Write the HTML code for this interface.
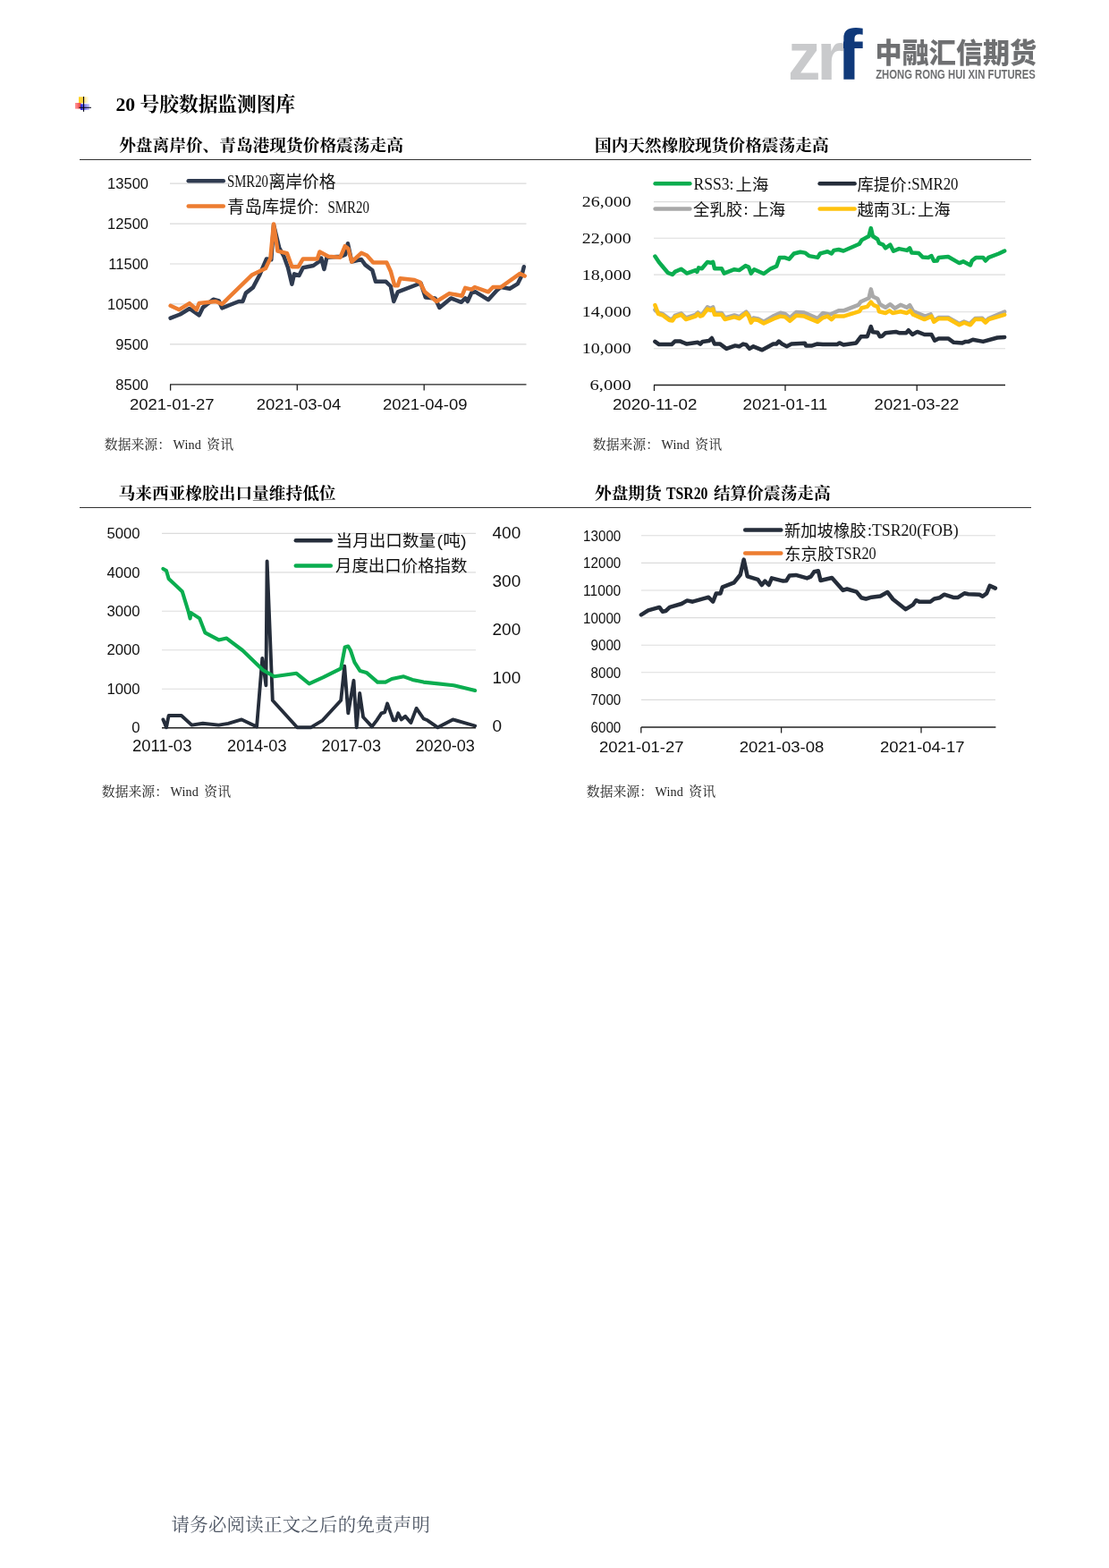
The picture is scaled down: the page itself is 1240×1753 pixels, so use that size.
<!DOCTYPE html>
<html lang="zh-CN"><head><meta charset="utf-8"><title>20号胶数据监测图库</title>
<style>
html,body{margin:0;padding:0;background:#fff;}
body{width:1240px;height:1753px;position:relative;overflow:hidden;font-family:"Liberation Serif","Noto Serif CJK SC",serif;color:#000;}
.t{position:absolute;white-space:nowrap;line-height:1;}
.h1{font-size:21.7px;font-weight:700;}
.ct{font-size:18.7px;font-weight:700;}
.src{font-size:14.85px;font-weight:400;color:#222;}
.src i{font-style:normal;font-size:14.2px;display:inline-block;margin:0 6.4px 0 2.6px;letter-spacing:0.1px;}
.lat{display:inline-block;transform-origin:0 50%;transform:scaleX(0.845);width:46.4px;margin:0 6.2px 0 5.6px;}
.ft{font-size:20.4px;color:#4d5563;letter-spacing:0.3px;}
.rule{position:absolute;height:0;border-top:1.4px solid #333;}
svg{position:absolute;left:0;top:0;}
</style></head><body>
<svg width="1240" height="1753" viewBox="0 0 1240 1753">
<!-- logo -->
<text x="880.9" y="89.0" font-size="75.5" font-family='"Liberation Sans","Noto Sans CJK SC",sans-serif' fill="#c9cacc" textLength="36.5" lengthAdjust="spacingAndGlyphs" font-weight="bold">z</text>
<text x="913.0" y="89.0" font-size="75.5" font-family='"Liberation Sans","Noto Sans CJK SC",sans-serif' fill="#c9cacc" textLength="31.5" lengthAdjust="spacingAndGlyphs" font-weight="bold">r</text>
<clipPath id="cf"><rect x="943" y="20" width="40" height="80"/></clipPath><g clip-path="url(#cf)"><text x="935.0" y="89.0" font-size="79.5" font-family='"Liberation Sans","Noto Sans CJK SC",sans-serif' fill="#10397a" textLength="29.5" lengthAdjust="spacingAndGlyphs" font-weight="bold">f</text></g>
<g transform="translate(978.6,70.3) scale(1,1.06)"><text x="0.0" y="0.0" font-size="29.2" font-family='"Liberation Sans","Noto Sans CJK SC",sans-serif' fill="#6f7072" textLength="180.6" lengthAdjust="spacingAndGlyphs" font-weight="900">中融汇信期货</text></g><text x="979.2" y="88.2" font-size="13.9" font-family='"Liberation Sans","Noto Sans CJK SC",sans-serif' fill="#6f7072" textLength="178.6" lengthAdjust="spacingAndGlyphs" font-weight="bold">ZHONG RONG HUI XIN FUTURES</text>
<!-- bullet icon -->
<defs>
<linearGradient id="gy" x1="0" x2="1" y1="0" y2="0"><stop offset="0" stop-color="#ffd21f"/><stop offset="0.45" stop-color="#ffd84a"/><stop offset="1" stop-color="#fff6d6" stop-opacity="0.4"/></linearGradient>
<linearGradient id="gr" x1="0" x2="1" y1="0" y2="0"><stop offset="0" stop-color="#ff9a9a"/><stop offset="1" stop-color="#ef3e3e"/></linearGradient>
<linearGradient id="gb" x1="0" x2="1" y1="0" y2="0"><stop offset="0" stop-color="#2020d8"/><stop offset="1" stop-color="#a6a6ff" stop-opacity="0.6"/></linearGradient>
</defs>
<rect x="88" y="108.3" width="11" height="7" fill="url(#gy)"/>
<rect x="84" y="115" width="6.5" height="6.6" fill="url(#gr)"/>
<rect x="90" y="116.3" width="10" height="6.7" fill="url(#gb)"/>
<line x1="93.5" y1="108" x2="93.5" y2="124.8" stroke="#05051a" stroke-width="1.15"/>
<line x1="88.4" y1="120.3" x2="102" y2="120.3" stroke="#05051a" stroke-width="1.0"/>
<!-- chart 1 -->
<line x1="190.0" y1="205.2" x2="588.5" y2="205.2" stroke="#d9d9d9" stroke-width="1.2"/>
<line x1="190.0" y1="250.1" x2="588.5" y2="250.1" stroke="#d9d9d9" stroke-width="1.2"/>
<line x1="190.0" y1="295.0" x2="588.5" y2="295.0" stroke="#d9d9d9" stroke-width="1.2"/>
<line x1="190.0" y1="339.9" x2="588.5" y2="339.9" stroke="#d9d9d9" stroke-width="1.2"/>
<line x1="190.0" y1="384.8" x2="588.5" y2="384.8" stroke="#d9d9d9" stroke-width="1.2"/>
<line x1="190.0" y1="429.9" x2="588.5" y2="429.9" stroke="#222" stroke-width="1.4"/>
<line x1="190.6" y1="429.9" x2="190.6" y2="436.6" stroke="#222" stroke-width="1.3"/>
<line x1="332.3" y1="429.9" x2="332.3" y2="436.6" stroke="#222" stroke-width="1.3"/>
<line x1="474.2" y1="429.9" x2="474.2" y2="436.6" stroke="#222" stroke-width="1.3"/>
<text x="166.0" y="211.2" font-size="16.5" font-family='"Liberation Sans","Noto Sans CJK SC",sans-serif' fill="#111" text-anchor="end">13500</text>
<text x="166.0" y="256.1" font-size="16.5" font-family='"Liberation Sans","Noto Sans CJK SC",sans-serif' fill="#111" text-anchor="end">12500</text>
<text x="166.0" y="301.0" font-size="16.5" font-family='"Liberation Sans","Noto Sans CJK SC",sans-serif' fill="#111" text-anchor="end">11500</text>
<text x="166.0" y="345.9" font-size="16.5" font-family='"Liberation Sans","Noto Sans CJK SC",sans-serif' fill="#111" text-anchor="end">10500</text>
<text x="166.0" y="390.8" font-size="16.5" font-family='"Liberation Sans","Noto Sans CJK SC",sans-serif' fill="#111" text-anchor="end">9500</text>
<text x="166.0" y="436.0" font-size="16.5" font-family='"Liberation Sans","Noto Sans CJK SC",sans-serif' fill="#111" text-anchor="end">8500</text>
<text x="192.2" y="458.0" font-size="16.8" font-family='"Liberation Sans","Noto Sans CJK SC",sans-serif' fill="#111" text-anchor="middle" textLength="94.6" lengthAdjust="spacingAndGlyphs">2021-01-27</text>
<text x="334.0" y="458.0" font-size="16.8" font-family='"Liberation Sans","Noto Sans CJK SC",sans-serif' fill="#111" text-anchor="middle" textLength="94.6" lengthAdjust="spacingAndGlyphs">2021-03-04</text>
<text x="475.3" y="458.0" font-size="16.8" font-family='"Liberation Sans","Noto Sans CJK SC",sans-serif' fill="#111" text-anchor="middle" textLength="94.6" lengthAdjust="spacingAndGlyphs">2021-04-09</text>
<polyline points="190.6,355.6 201.3,351.5 211.9,345.0 222.6,352.4 227.0,343.6 238.5,334.7 244.8,336.5 248.3,344.4 266.9,337.0 271.4,337.0 274.9,327.6 282.9,321.4 290.0,308.0 298.0,289.4 303.3,290.3 306.0,251.3 312.2,277.0 317.5,286.8 322.0,299.2 326.4,317.8 329.0,306.3 334.4,308.0 338.8,299.2 350.3,297.0 357.4,292.0 359.2,288.5 362.4,301.0 365.4,287.7 380.5,286.8 386.2,284.6 388.9,272.2 393.3,292.6 404.0,290.0 408.4,296.1 416.4,302.3 420.0,314.8 431.5,314.8 436.8,320.0 440.3,337.0 444.8,326.3 470.5,316.5 475.8,332.5 486.5,333.4 491.4,344.0 504.2,333.4 515.7,337.8 520.2,333.4 522.8,337.0 527.3,327.2 531.7,326.3 545.9,335.2 555.7,324.5 560.0,321.0 569.9,322.7 578.7,317.4 583.2,308.6 585.8,298.3" fill="none" stroke="#2f3b50" stroke-width="4.5" stroke-linejoin="round" stroke-linecap="round" />
<polyline points="190.6,341.8 200.4,346.2 211.9,339.1 219.9,346.2 222.6,339.1 241.2,337.0 248.3,340.0 282.0,307.2 297.0,300.0 302.4,288.6 306.0,250.4 310.4,280.6 321.0,283.2 326.4,298.3 333.5,298.3 338.8,289.4 354.8,289.4 357.4,281.5 367.2,286.8 380.5,287.7 385.8,275.2 389.4,278.0 393.3,292.6 404.0,282.8 410.2,285.5 417.3,293.5 432.3,293.5 436.8,303.2 441.2,319.2 444.8,319.2 447.4,311.2 463.4,313.0 469.6,315.6 474.9,326.3 488.2,337.0 502.4,328.1 516.6,330.7 520.2,321.9 527.3,323.6 530.8,321.0 545.9,326.3 551.2,321.0 560.0,321.0 581.4,305.9 586.7,308.6" fill="none" stroke="#ed7d31" stroke-width="4.5" stroke-linejoin="round" stroke-linecap="round" />
<line x1="210.7" y1="202.2" x2="249.8" y2="202.2" stroke="#2f3b50" stroke-width="4.5" stroke-linecap="round"/>
<line x1="210.7" y1="230.5" x2="249.8" y2="230.5" stroke="#ed7d31" stroke-width="4.5" stroke-linecap="round"/>
<text x="254.0" y="209.3" font-size="18" font-family='"Liberation Serif","Noto Serif CJK SC",serif' fill="#111" textLength="46.0" lengthAdjust="spacingAndGlyphs">SMR20</text>
<text x="300.6" y="210.0" font-size="18.8" font-family='"Liberation Sans","Noto Sans CJK SC",sans-serif' fill="#111" textLength="75.0" lengthAdjust="spacingAndGlyphs">离岸价格</text>
<text x="254.0" y="238.2" font-size="18.8" font-family='"Liberation Sans","Noto Sans CJK SC",sans-serif' fill="#111" textLength="102.5" lengthAdjust="spacingAndGlyphs">青岛库提价:</text>
<text x="366.5" y="237.6" font-size="18" font-family='"Liberation Serif","Noto Serif CJK SC",serif' fill="#111" textLength="46.5" lengthAdjust="spacingAndGlyphs">SMR20</text>
<!-- chart 2 -->
<line x1="731.0" y1="225.6" x2="1124.0" y2="225.6" stroke="#dcdcdc" stroke-width="1.1"/>
<line x1="731.0" y1="266.3" x2="1124.0" y2="266.3" stroke="#dcdcdc" stroke-width="1.1"/>
<line x1="731.0" y1="307.1" x2="1124.0" y2="307.1" stroke="#dcdcdc" stroke-width="1.1"/>
<line x1="731.0" y1="348.8" x2="1124.0" y2="348.8" stroke="#dcdcdc" stroke-width="1.1"/>
<line x1="731.0" y1="389.7" x2="1124.0" y2="389.7" stroke="#dcdcdc" stroke-width="1.1"/>
<line x1="731.0" y1="430.5" x2="1124.0" y2="430.5" stroke="#222" stroke-width="1.3"/>
<line x1="731.5" y1="430.5" x2="731.5" y2="437.0" stroke="#222" stroke-width="1.3"/>
<line x1="878.0" y1="430.5" x2="878.0" y2="437.0" stroke="#222" stroke-width="1.3"/>
<line x1="1025.2" y1="430.5" x2="1025.2" y2="437.0" stroke="#222" stroke-width="1.3"/>
<text x="650.7" y="231.2" font-size="17.2" font-family='"Liberation Serif","Noto Serif CJK SC",serif' fill="#111" textLength="55.0" lengthAdjust="spacingAndGlyphs">26,000</text>
<text x="650.7" y="271.9" font-size="17.2" font-family='"Liberation Serif","Noto Serif CJK SC",serif' fill="#111" textLength="55.0" lengthAdjust="spacingAndGlyphs">22,000</text>
<text x="650.7" y="312.7" font-size="17.2" font-family='"Liberation Serif","Noto Serif CJK SC",serif' fill="#111" textLength="55.0" lengthAdjust="spacingAndGlyphs">18,000</text>
<text x="650.7" y="354.4" font-size="17.2" font-family='"Liberation Serif","Noto Serif CJK SC",serif' fill="#111" textLength="55.0" lengthAdjust="spacingAndGlyphs">14,000</text>
<text x="650.7" y="395.3" font-size="17.2" font-family='"Liberation Serif","Noto Serif CJK SC",serif' fill="#111" textLength="55.0" lengthAdjust="spacingAndGlyphs">10,000</text>
<text x="659.5" y="436.2" font-size="17.2" font-family='"Liberation Serif","Noto Serif CJK SC",serif' fill="#111" textLength="46.3" lengthAdjust="spacingAndGlyphs">6,000</text>
<text x="732.2" y="458.0" font-size="16.8" font-family='"Liberation Sans","Noto Sans CJK SC",sans-serif' fill="#111" text-anchor="middle" textLength="94.6" lengthAdjust="spacingAndGlyphs">2020-11-02</text>
<text x="877.9" y="458.0" font-size="16.8" font-family='"Liberation Sans","Noto Sans CJK SC",sans-serif' fill="#111" text-anchor="middle" textLength="94.6" lengthAdjust="spacingAndGlyphs">2021-01-11</text>
<text x="1024.9" y="458.0" font-size="16.8" font-family='"Liberation Sans","Noto Sans CJK SC",sans-serif' fill="#111" text-anchor="middle" textLength="94.6" lengthAdjust="spacingAndGlyphs">2021-03-22</text>
<polyline points="732.4,286.5 736.9,293.2 746.6,304.8 751.9,307.0 754.6,303.9 761.7,300.7 767.9,305.6 777.7,302.1 779.4,303.9 781.2,299.4 784.8,300.3 791.0,292.9 794.5,293.8 797.2,292.9 799.0,300.3 806.9,300.3 809.6,305.6 821.1,301.2 826.5,302.1 833.6,297.1 837.1,298.6 839.8,305.6 843.3,301.2 854.0,306.0 861.9,300.3 868.2,297.7 871.7,287.9 877.0,287.9 882.3,289.7 887.7,283.5 894.8,281.7 900.1,282.6 904.5,286.1 914.3,287.9 916.9,283.5 920.0,282.6 925.3,281.2 929.8,283.5 932.4,279.9 937.7,279.0 943.1,280.5 960.8,272.8 963.5,268.4 971.5,264.0 973.8,255.1 975.9,264.0 981.2,267.5 983.0,271.9 987.4,273.7 990.1,277.3 995.4,273.7 999.0,280.8 1005.2,278.1 1014.0,279.9 1017.2,277.3 1019.4,282.6 1027.3,283.1 1031.8,287.6 1038.0,287.9 1041.5,286.1 1044.2,291.8 1047.8,291.5 1049.5,287.9 1060.2,287.0 1072.6,294.1 1077.0,292.3 1085.0,296.4 1086.8,291.5 1091.2,287.9 1099.2,287.9 1101.9,291.5 1105.4,287.9 1116.9,283.5 1123.2,280.5" fill="none" stroke="#0aad4f" stroke-width="4.5" stroke-linejoin="round" stroke-linecap="round" />
<polyline points="732.4,381.9 736.9,385.1 751.0,385.1 754.6,381.6 760.8,381.6 767.9,384.6 780.3,382.8 783.0,384.6 785.6,381.9 792.7,381.1 795.9,378.0 799.0,384.6 805.2,384.6 812.3,389.9 822.0,386.4 826.5,387.3 830.9,384.6 834.4,385.5 838.0,389.9 842.4,387.3 852.2,391.3 864.6,384.6 868.0,384.6 870.8,381.6 874.4,384.6 879.7,387.3 885.0,384.6 900.1,383.7 901.0,386.4 908.0,386.4 913.4,384.6 920.0,385.1 936.0,385.1 938.6,383.4 943.1,385.5 957.3,383.4 962.6,376.3 969.7,376.3 973.8,365.1 975.9,371.3 981.2,371.7 983.9,376.3 986.5,375.7 990.1,372.2 1001.6,370.9 1005.2,372.2 1013.2,372.2 1015.8,369.2 1020.2,374.0 1025.6,370.9 1033.6,374.0 1041.5,374.0 1045.1,380.7 1049.5,378.4 1060.2,378.4 1066.4,382.8 1076.1,383.4 1079.7,381.9 1083.0,381.9 1087.7,379.8 1099.2,381.9 1115.2,377.5 1123.2,377.0" fill="none" stroke="#252d3a" stroke-width="4.5" stroke-linejoin="round" stroke-linecap="round" />
<polyline points="732.4,346.5 736.0,349.5 741.3,351.2 748.4,356.5 751.9,357.0 754.6,352.9 761.7,350.3 767.0,355.3 777.7,351.8 780.3,349.4 783.0,352.0 785.6,350.9 791.0,343.4 794.5,345.0 797.2,343.4 799.0,350.0 806.9,350.0 810.5,355.3 821.1,352.4 826.5,354.2 834.4,348.5 837.1,352.0 839.8,359.0 842.4,355.5 847.8,356.5 854.0,359.8 865.5,353.0 872.6,349.8 877.9,351.0 883.2,355.5 890.3,349.0 899.2,349.5 914.3,356.0 920.0,350.0 928.0,351.8 937.7,347.3 943.1,347.3 959.9,340.8 962.6,337.2 971.5,333.2 973.8,323.4 975.9,331.4 981.2,334.0 983.9,340.2 990.1,343.8 995.4,340.2 1000.7,344.7 1006.9,340.8 1014.0,343.8 1017.2,341.1 1021.1,348.2 1034.4,353.6 1040.7,351.4 1044.2,358.6 1049.5,355.0 1060.2,355.0 1072.6,362.0 1077.9,359.5 1084.1,362.0 1090.3,356.0 1098.3,355.8 1101.9,359.5 1105.4,356.0 1123.2,348.6" fill="none" stroke="#a9a9a9" stroke-width="4.5" stroke-linejoin="round" stroke-linecap="round" />
<polyline points="732.4,341.1 736.0,350.9 741.3,352.7 748.4,358.0 751.9,358.5 754.6,354.4 761.7,351.8 767.0,357.1 777.7,353.6 780.3,350.9 783.0,353.6 785.6,352.7 791.0,345.6 794.5,347.0 797.2,345.6 799.0,351.8 806.9,351.8 810.5,357.1 821.1,354.4 826.5,356.2 834.4,350.0 837.1,353.6 839.8,360.7 842.4,357.1 847.8,358.0 854.0,361.5 865.5,356.2 872.6,353.6 877.9,354.4 883.2,358.9 890.3,352.7 899.2,353.6 914.3,359.8 920.0,355.3 925.3,353.6 929.8,357.1 933.3,353.6 943.1,353.6 960.8,348.2 963.5,344.3 969.7,342.9 973.8,337.6 976.8,341.1 981.2,342.9 983.0,348.2 990.1,350.0 994.5,347.3 998.1,350.0 1006.9,348.2 1014.0,350.0 1017.6,347.3 1021.1,351.8 1033.6,357.1 1041.5,353.6 1044.2,359.8 1049.5,356.2 1060.2,356.2 1072.6,363.3 1077.9,360.7 1085.0,363.3 1090.3,357.1 1098.3,357.1 1101.9,360.7 1105.4,357.1 1123.2,351.8" fill="none" stroke="#ffc20e" stroke-width="4.5" stroke-linejoin="round" stroke-linecap="round" />
<line x1="732.6" y1="205.3" x2="771.4" y2="205.3" stroke="#0aad4f" stroke-width="4.5" stroke-linecap="round"/>
<line x1="916.6" y1="205.3" x2="955.6" y2="205.3" stroke="#252d3a" stroke-width="4.5" stroke-linecap="round"/>
<line x1="732.6" y1="233.6" x2="771.4" y2="233.6" stroke="#a9a9a9" stroke-width="4.5" stroke-linecap="round"/>
<line x1="916.6" y1="233.6" x2="955.6" y2="233.6" stroke="#ffc20e" stroke-width="4.5" stroke-linecap="round"/>
<text x="775.5" y="211.6" font-size="18.5" font-family='"Liberation Serif","Noto Serif CJK SC",serif' fill="#111" textLength="45.0" lengthAdjust="spacingAndGlyphs">RSS3:</text>
<text x="822.6" y="212.6" font-size="18.4" font-family='"Liberation Sans","Noto Sans CJK SC",sans-serif' fill="#111" textLength="36.7" lengthAdjust="spacingAndGlyphs">上海</text>
<text x="958.5" y="212.6" font-size="18.4" font-family='"Liberation Sans","Noto Sans CJK SC",sans-serif' fill="#111" textLength="55.0" lengthAdjust="spacingAndGlyphs">库提价</text>
<text x="1014.5" y="211.6" font-size="18.5" font-family='"Liberation Serif","Noto Serif CJK SC",serif' fill="#111" textLength="57.0" lengthAdjust="spacingAndGlyphs">:SMR20</text>
<text x="775.0" y="240.6" font-size="18.4" font-family='"Liberation Sans","Noto Sans CJK SC",sans-serif' fill="#111" textLength="55.0" lengthAdjust="spacingAndGlyphs">全乳胶</text>
<text x="831.5" y="239.6" font-size="18.5" font-family='"Liberation Serif","Noto Serif CJK SC",serif' fill="#111">:</text>
<text x="841.4" y="240.6" font-size="18.4" font-family='"Liberation Sans","Noto Sans CJK SC",sans-serif' fill="#111" textLength="36.7" lengthAdjust="spacingAndGlyphs">上海</text>
<text x="958.5" y="240.6" font-size="18.4" font-family='"Liberation Sans","Noto Sans CJK SC",sans-serif' fill="#111" textLength="36.7" lengthAdjust="spacingAndGlyphs">越南</text>
<text x="996.5" y="239.6" font-size="18.5" font-family='"Liberation Serif","Noto Serif CJK SC",serif' fill="#111" textLength="27.5" lengthAdjust="spacingAndGlyphs">3L:</text>
<text x="1026.0" y="240.6" font-size="18.4" font-family='"Liberation Sans","Noto Sans CJK SC",sans-serif' fill="#111" textLength="36.7" lengthAdjust="spacingAndGlyphs">上海</text>
<!-- chart 3 -->
<line x1="181.0" y1="596.4" x2="532.0" y2="596.4" stroke="#dcdcdc" stroke-width="1.1"/>
<line x1="181.0" y1="639.9" x2="532.0" y2="639.9" stroke="#dcdcdc" stroke-width="1.1"/>
<line x1="181.0" y1="683.3" x2="532.0" y2="683.3" stroke="#dcdcdc" stroke-width="1.1"/>
<line x1="181.0" y1="726.7" x2="532.0" y2="726.7" stroke="#dcdcdc" stroke-width="1.1"/>
<line x1="181.0" y1="770.2" x2="532.0" y2="770.2" stroke="#dcdcdc" stroke-width="1.1"/>
<line x1="181.0" y1="813.8" x2="532.0" y2="813.8" stroke="#222" stroke-width="1.5"/>
<text x="156.5" y="602.0" font-size="16.7" font-family='"Liberation Sans","Noto Sans CJK SC",sans-serif' fill="#111" text-anchor="end">5000</text>
<text x="156.5" y="645.5" font-size="16.7" font-family='"Liberation Sans","Noto Sans CJK SC",sans-serif' fill="#111" text-anchor="end">4000</text>
<text x="156.5" y="688.9" font-size="16.7" font-family='"Liberation Sans","Noto Sans CJK SC",sans-serif' fill="#111" text-anchor="end">3000</text>
<text x="156.5" y="732.3" font-size="16.7" font-family='"Liberation Sans","Noto Sans CJK SC",sans-serif' fill="#111" text-anchor="end">2000</text>
<text x="156.5" y="775.8" font-size="16.7" font-family='"Liberation Sans","Noto Sans CJK SC",sans-serif' fill="#111" text-anchor="end">1000</text>
<text x="156.5" y="819.2" font-size="16.7" font-family='"Liberation Sans","Noto Sans CJK SC",sans-serif' fill="#111" text-anchor="end">0</text>
<text x="550.5" y="602.2" font-size="19" font-family='"Liberation Sans","Noto Sans CJK SC",sans-serif' fill="#111">400</text>
<text x="550.5" y="656.3" font-size="19" font-family='"Liberation Sans","Noto Sans CJK SC",sans-serif' fill="#111">300</text>
<text x="550.5" y="710.3" font-size="19" font-family='"Liberation Sans","Noto Sans CJK SC",sans-serif' fill="#111">200</text>
<text x="550.5" y="764.4" font-size="19" font-family='"Liberation Sans","Noto Sans CJK SC",sans-serif' fill="#111">100</text>
<text x="550.5" y="818.4" font-size="19" font-family='"Liberation Sans","Noto Sans CJK SC",sans-serif' fill="#111">0</text>
<text x="181.2" y="839.6" font-size="17.6" font-family='"Liberation Sans","Noto Sans CJK SC",sans-serif' fill="#111" text-anchor="middle" textLength="66.4" lengthAdjust="spacingAndGlyphs">2011-03</text>
<text x="287.3" y="839.6" font-size="17.6" font-family='"Liberation Sans","Noto Sans CJK SC",sans-serif' fill="#111" text-anchor="middle" textLength="66.4" lengthAdjust="spacingAndGlyphs">2014-03</text>
<text x="392.8" y="839.6" font-size="17.6" font-family='"Liberation Sans","Noto Sans CJK SC",sans-serif' fill="#111" text-anchor="middle" textLength="66.4" lengthAdjust="spacingAndGlyphs">2017-03</text>
<text x="497.7" y="839.6" font-size="17.6" font-family='"Liberation Sans","Noto Sans CJK SC",sans-serif' fill="#111" text-anchor="middle" textLength="66.4" lengthAdjust="spacingAndGlyphs">2020-03</text>
<polyline points="182.4,804.4 186.0,813.3 188.6,800.0 202.8,800.0 214.4,810.6 226.8,808.8 244.5,810.6 255.2,808.8 270.2,804.4 287.1,812.4 293.3,735.9 297.4,766.2 298.6,627.4 304.8,783.0 332.3,813.3 347.4,813.3 360.7,805.3 381.2,783.0 385.2,744.8 389.3,797.3 395.5,760.8 398.7,813.3 402.2,775.0 406.1,801.7 415.9,812.4 421.2,805.3 426.5,797.3 430.1,796.4 433.1,786.6 439.8,805.3 442.5,805.3 445.2,797.3 448.7,804.4 453.2,800.9 459.4,808.0 465.6,791.9 473.6,803.5 478.0,805.3 489.5,813.3 506.4,804.4 531.2,811.5" fill="none" stroke="#252d3a" stroke-width="3.9" stroke-linejoin="round" stroke-linecap="round" />
<polyline points="182.4,635.9 186.0,638.0 188.6,646.9 203.7,661.2 210.8,684.2 212.6,691.4 213.5,685.1 223.2,691.4 229.4,707.4 244.5,715.4 253.4,713.6 271.1,727.0 294.2,749.2 306.6,756.3 331.5,752.8 345.7,764.4 361.6,757.2 381.2,747.4 385.7,723.5 389.3,722.5 391.9,727.0 396.4,740.3 402.6,750.1 409.7,751.9 422.1,762.6 431.0,762.6 438.1,759.0 451.4,756.3 461.1,759.9 473.6,762.6 507.3,766.2 531.2,772.0" fill="none" stroke="#0aad4f" stroke-width="4.1" stroke-linejoin="round" stroke-linecap="round" />
<line x1="330.8" y1="604.2" x2="369.8" y2="604.2" stroke="#252d3a" stroke-width="4.5" stroke-linecap="round"/>
<line x1="330.8" y1="632.4" x2="369.8" y2="632.4" stroke="#0aad4f" stroke-width="4.5" stroke-linecap="round"/>
<text x="375.6" y="611.0" font-size="18.6" font-family='"Liberation Sans","Noto Sans CJK SC",sans-serif' fill="#111" textLength="111.5" lengthAdjust="spacingAndGlyphs">当月出口数量</text>
<text x="488.6" y="610.6" font-size="18.6" font-family='"Liberation Sans","Noto Sans CJK SC",sans-serif' fill="#111" textLength="33.0" lengthAdjust="spacingAndGlyphs">(吨)</text>
<text x="375.0" y="639.3" font-size="18.6" font-family='"Liberation Sans","Noto Sans CJK SC",sans-serif' fill="#111" textLength="147.5" lengthAdjust="spacingAndGlyphs">月度出口价格指数</text>
<!-- chart 4 -->
<line x1="717.0" y1="598.8" x2="1113.0" y2="598.8" stroke="#dcdcdc" stroke-width="1.1"/>
<line x1="717.0" y1="629.4" x2="1113.0" y2="629.4" stroke="#dcdcdc" stroke-width="1.1"/>
<line x1="717.0" y1="660.0" x2="1113.0" y2="660.0" stroke="#dcdcdc" stroke-width="1.1"/>
<line x1="717.0" y1="690.6" x2="1113.0" y2="690.6" stroke="#dcdcdc" stroke-width="1.1"/>
<line x1="717.0" y1="721.2" x2="1113.0" y2="721.2" stroke="#dcdcdc" stroke-width="1.1"/>
<line x1="717.0" y1="751.8" x2="1113.0" y2="751.8" stroke="#dcdcdc" stroke-width="1.1"/>
<line x1="717.0" y1="782.4" x2="1113.0" y2="782.4" stroke="#dcdcdc" stroke-width="1.1"/>
<line x1="717.0" y1="813.0" x2="1113.4" y2="813.0" stroke="#222" stroke-width="1.4"/>
<line x1="716.8" y1="813.0" x2="716.8" y2="819.5" stroke="#222" stroke-width="1.3"/>
<line x1="873.6" y1="813.0" x2="873.6" y2="819.5" stroke="#222" stroke-width="1.3"/>
<line x1="1030.0" y1="813.0" x2="1030.0" y2="819.5" stroke="#222" stroke-width="1.3"/>
<text x="694.3" y="604.7" font-size="16.6" font-family='"Liberation Sans","Noto Sans CJK SC",sans-serif' fill="#111" text-anchor="end" textLength="42.2" lengthAdjust="spacingAndGlyphs">13000</text>
<text x="694.3" y="635.3" font-size="16.6" font-family='"Liberation Sans","Noto Sans CJK SC",sans-serif' fill="#111" text-anchor="end" textLength="42.2" lengthAdjust="spacingAndGlyphs">12000</text>
<text x="694.3" y="665.9" font-size="16.6" font-family='"Liberation Sans","Noto Sans CJK SC",sans-serif' fill="#111" text-anchor="end" textLength="42.2" lengthAdjust="spacingAndGlyphs">11000</text>
<text x="694.3" y="696.5" font-size="16.6" font-family='"Liberation Sans","Noto Sans CJK SC",sans-serif' fill="#111" text-anchor="end" textLength="42.2" lengthAdjust="spacingAndGlyphs">10000</text>
<text x="694.3" y="727.1" font-size="16.6" font-family='"Liberation Sans","Noto Sans CJK SC",sans-serif' fill="#111" text-anchor="end" textLength="33.8" lengthAdjust="spacingAndGlyphs">9000</text>
<text x="694.3" y="757.7" font-size="16.6" font-family='"Liberation Sans","Noto Sans CJK SC",sans-serif' fill="#111" text-anchor="end" textLength="33.8" lengthAdjust="spacingAndGlyphs">8000</text>
<text x="694.3" y="788.3" font-size="16.6" font-family='"Liberation Sans","Noto Sans CJK SC",sans-serif' fill="#111" text-anchor="end" textLength="33.8" lengthAdjust="spacingAndGlyphs">7000</text>
<text x="694.3" y="818.9" font-size="16.6" font-family='"Liberation Sans","Noto Sans CJK SC",sans-serif' fill="#111" text-anchor="end" textLength="33.8" lengthAdjust="spacingAndGlyphs">6000</text>
<text x="717.2" y="840.8" font-size="16.8" font-family='"Liberation Sans","Noto Sans CJK SC",sans-serif' fill="#111" text-anchor="middle" textLength="94.6" lengthAdjust="spacingAndGlyphs">2021-01-27</text>
<text x="874.0" y="840.8" font-size="16.8" font-family='"Liberation Sans","Noto Sans CJK SC",sans-serif' fill="#111" text-anchor="middle" textLength="94.6" lengthAdjust="spacingAndGlyphs">2021-03-08</text>
<text x="1031.3" y="840.8" font-size="16.8" font-family='"Liberation Sans","Noto Sans CJK SC",sans-serif' fill="#111" text-anchor="middle" textLength="94.6" lengthAdjust="spacingAndGlyphs">2021-04-17</text>
<polyline points="716.9,687.4 724.8,682.4 737.3,678.9 740.8,683.8 744.4,683.0 748.8,678.9 762.1,675.0 768.3,671.4 774.5,672.7 792.3,667.7 797.2,672.7 800.8,663.4 805.6,663.4 807.9,656.3 820.7,651.4 827.8,642.5 831.7,625.6 835.7,644.3 847.3,647.8 851.7,654.0 855.3,649.6 859.7,654.0 862.9,646.4 875.7,649.6 879.2,649.2 882.8,643.4 889.9,642.9 902.3,646.4 906.7,644.6 910.3,639.3 914.9,638.2 917.5,649.0 930.2,646.0 942.6,659.9 947.0,658.5 957.7,661.7 963.0,668.2 968.3,669.5 974.5,667.7 984.3,666.5 992.3,662.0 998.5,670.0 1012.7,681.2 1020.7,676.2 1024.2,671.2 1027.8,672.7 1040.2,672.7 1044.6,669.5 1050.8,668.2 1055.8,664.7 1065.9,667.9 1071.2,667.9 1078.3,663.3 1082.8,664.3 1095.2,664.7 1098.7,666.8 1103.2,663.4 1106.7,654.9 1112.9,657.6" fill="none" stroke="#252d3a" stroke-width="4.5" stroke-linejoin="round" stroke-linecap="round" />
<line x1="833.2" y1="592.6" x2="873.3" y2="592.6" stroke="#252d3a" stroke-width="4.5" stroke-linecap="round"/>
<line x1="833.2" y1="618.4" x2="873.3" y2="618.4" stroke="#ed7d31" stroke-width="4.5" stroke-linecap="round"/>
<text x="877.0" y="599.6" font-size="18.4" font-family='"Liberation Sans","Noto Sans CJK SC",sans-serif' fill="#111" textLength="91.5" lengthAdjust="spacingAndGlyphs">新加坡橡胶</text>
<text x="970.0" y="598.8" font-size="18.6" font-family='"Liberation Serif","Noto Serif CJK SC",serif' fill="#111" textLength="101.6" lengthAdjust="spacingAndGlyphs">:TSR20(FOB)</text>
<text x="877.0" y="625.6" font-size="18.4" font-family='"Liberation Sans","Noto Sans CJK SC",sans-serif' fill="#111" textLength="55.5" lengthAdjust="spacingAndGlyphs">东京胶</text>
<text x="933.7" y="624.8" font-size="18.6" font-family='"Liberation Serif","Noto Serif CJK SC",serif' fill="#111" textLength="46.0" lengthAdjust="spacingAndGlyphs">TSR20</text>
</svg>
<div class="t h1" style="left:129.5px;top:107.2px;">20 号胶数据监测图库</div>
<div class="t ct" style="left:133.2px;top:154.2px;">外盘离岸价、青岛港现货价格震荡走高</div>
<div class="t ct" style="left:665px;top:154.2px;">国内天然橡胶现货价格震荡走高</div>
<div class="rule" style="left:89px;top:177.9px;width:1064px;"></div>
<div class="t src" style="left:116.8px;top:489.6px;">数据来源：<i>Wind</i>资讯</div>
<div class="t src" style="left:662.8px;top:489.6px;">数据来源：<i>Wind</i>资讯</div>
<div class="t ct" style="left:132.6px;top:542.6px;">马来西亚橡胶出口量维持低位</div>
<div class="t ct" style="left:665px;top:542.6px;">外盘期货<span class="lat">TSR20</span>结算价震荡走高</div>
<div class="rule" style="left:89px;top:566.6px;width:1064px;"></div>
<div class="t src" style="left:113.8px;top:877.6px;">数据来源：<i>Wind</i>资讯</div>
<div class="t src" style="left:655.8px;top:877.6px;">数据来源：<i>Wind</i>资讯</div>
<div class="t ft" style="left:191.5px;top:1695px;">请务必阅读正文之后的免责声明</div>
</body></html>
